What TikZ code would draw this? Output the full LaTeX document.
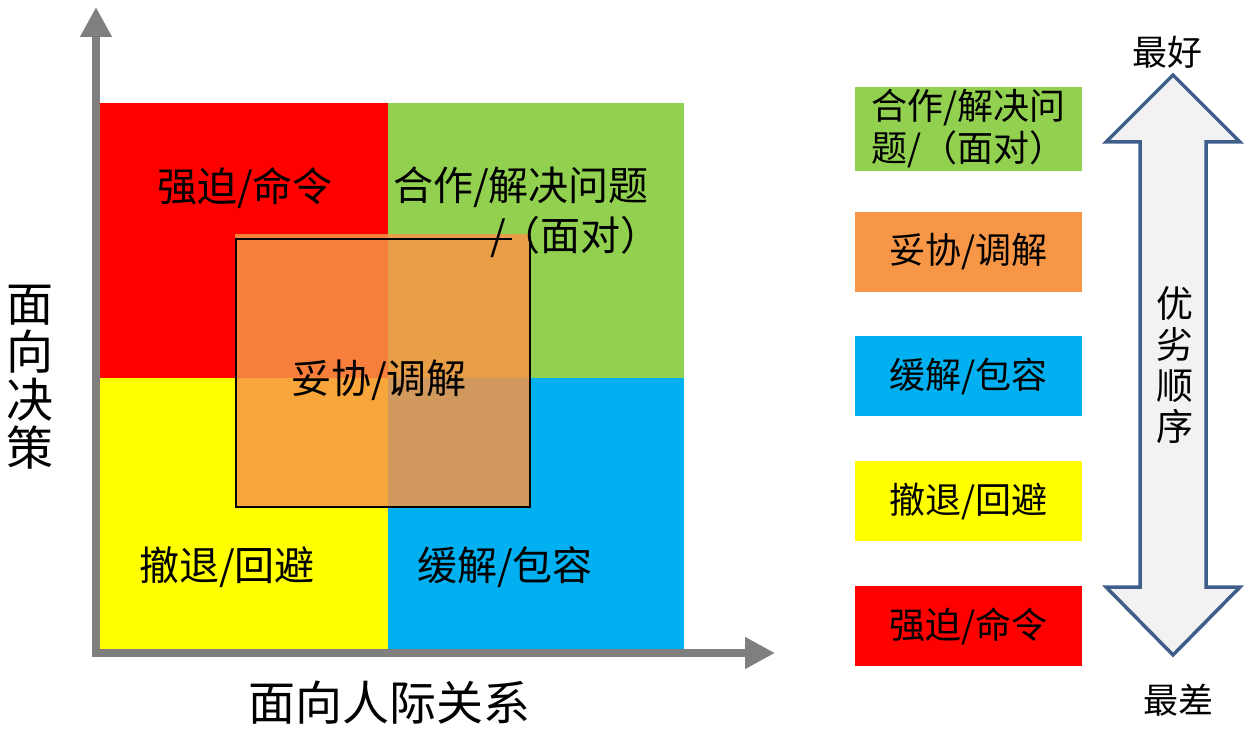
\documentclass[tikz,border=0pt]{standalone}
\usepackage{fontspec}
\setmainfont{Noto Sans CJK SC}
\usetikzlibrary{arrows.meta}
\definecolor{tkred}{HTML}{FF0000}
\definecolor{tkgreen}{HTML}{92D050}
\definecolor{tkyellow}{HTML}{FFFF00}
\definecolor{tkblue}{HTML}{00B0F0}
\definecolor{tkorange}{HTML}{F79646}
\definecolor{tkgray}{HTML}{7F7F7F}
\definecolor{tkslate}{HTML}{3F5F8A}
\definecolor{tklight}{HTML}{F2F2F2}
\tikzset{
  tk quad/.style={inner sep=0pt, anchor=north west},
  tk box/.style={inner sep=0pt, minimum width=227pt, minimum height=80pt, align=left,
    font=\fontsize{36}{42}\selectfont},
  tk axis/.style={draw=tkgray, line width=8pt, -{Triangle[length=30pt,width=30pt]}},
  tk big/.style={font=\fontsize{47}{48}\selectfont, align=center},
  tk mid/.style={font=\fontsize{40}{50}\selectfont},
  tk small/.style={font=\fontsize{35}{40}\selectfont, align=center}
}

\begin{document}
\begin{tikzpicture}[x=1pt, y=-1pt]
  \useasboundingbox (0,0) rectangle (1255,733);
  % quadrants
  \node[tk quad, fill=tkred, minimum width=288pt, minimum height=275pt] (qred) at (100,103) {};
  \node[tk quad, fill=tkgreen, minimum width=296pt, minimum height=275pt] (qgreen) at (388,103) {};
  \node[tk quad, fill=tkyellow, minimum width=288pt, minimum height=272pt] (qyellow) at (100,378) {};
  \node[tk quad, fill=tkblue, minimum width=296pt, minimum height=272pt] (qblue) at (388,378) {};
  % compromise overlay
  \node[tk quad, fill=tkorange, fill opacity=0.85, minimum width=295pt, minimum height=273pt] (qmid) at (235,234) {};
  \draw[line width=2pt] (512,239) -- (236,239) -- (236,507) -- (530,507) -- (530,236);
  % axes
  \coordinate (origin) at (96,653);
  \draw[tk axis] (96,657) -- (96,7);
  \draw[tk axis] (92,653) -- (775,653);
  % quadrant labels
  \node[tk mid] (lred) at (245,188) {强迫/命令};
  \node[tk mid, align=right] (lgreen) at (521,212) {合作/解决问题\\/\kern-5pt（面对）\kern-12pt};
  \node[tk mid] (lmid) at (379,380) {妥协/调解};
  \node[tk mid] (lyellow) at (227,567) {撤退/回避};
  \node[tk mid] (lblue) at (505,567) {缓解/包容};
  \node[tk big] (yaxis) at (30,377) {面\\向\\决\\策};
  \node[tk big] (xaxis) at (389,703) {面向人际关系};
  % ranking boxes
  \node[tk box, fill=tkgreen, minimum height=84pt] (rgreen) at (968.5,129) {合作/解决问\\题/（面对）};
  \node[tk box, fill=tkorange] (rorange) at (968.5,252) {妥协/调解};
  \node[tk box, fill=tkblue] (rblue) at (968.5,376) {缓解/包容};
  \node[tk box, fill=tkyellow] (ryellow) at (968.5,501) {撤退/回避};
  \node[tk box, fill=tkred] (rred) at (968.5,626) {强迫/命令};
  % order arrow
  \draw[draw=tkslate, fill=tklight, line width=3.5pt] (1173,75) -- (1240,142) -- (1206,142)
    -- (1206,587) -- (1240,587) -- (1173,655) -- (1106,587) -- (1140,587) -- (1140,142)
    -- (1106,142) -- cycle;
  \node[tk small, font=\fontsize{37}{41}\selectfont] (order) at (1175,365) {优\\劣\\顺\\序};
  \node[tk small] (best) at (1167,52) {最好};
  \node[tk small] (worst) at (1178,700) {最差};
\end{tikzpicture}
\end{document}
